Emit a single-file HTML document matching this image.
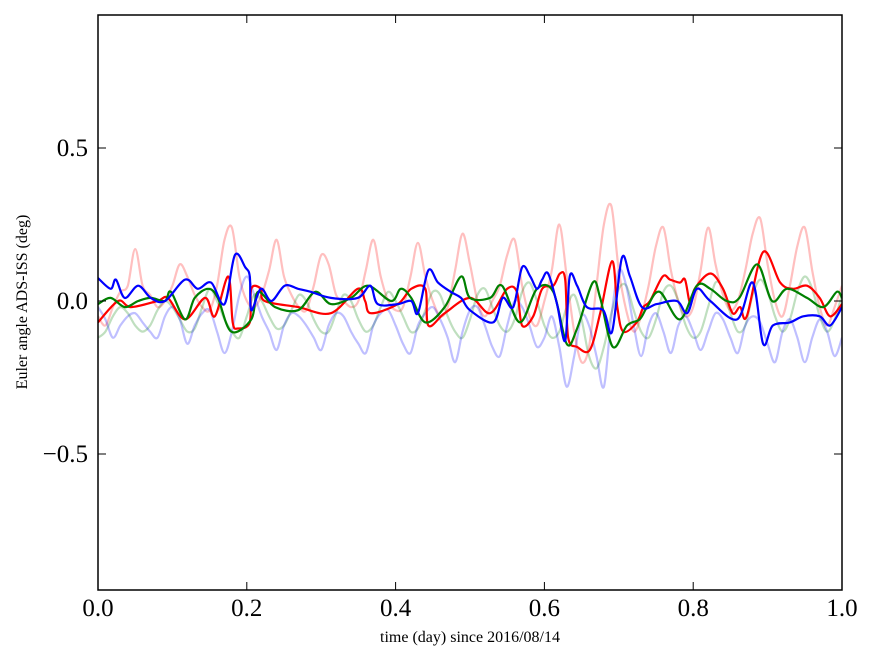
<!DOCTYPE html>
<html><head><meta charset="utf-8"><style>
body{margin:0;background:#fff;}
svg{display:block;font-family:"Liberation Serif",serif;}
</style></head><body>
<svg id="chart" width="875" height="662"></svg>
<script>
// x ticks
const xTicks=[0,0.2,0.4,0.6,0.8,1.0];
const xTickLabels=["0.0","0.2","0.4","0.6","0.8","1.0"];
const yTicks=[0.5,0,-0.5];
const yTickLabels=["0.5","0.0","\u22120.5"];
// faint series sampled every 0.01 day
const faintRed=[-0.05,-0.08,-0.02,0.03,0.05,0.17,0.05,0.02,-0.02,0.00,0.05,0.12,0.08,0.02,-0.02,-0.03,0.05,0.20,0.24,0.08,0.00,-0.02,0.02,0.10,0.20,0.08,0.02,-0.02,-0.03,0.05,0.15,0.12,0.02,0.00,-0.02,0.00,0.10,0.20,0.08,0.00,-0.03,-0.02,0.08,0.19,0.08,0.00,-0.05,-0.02,0.10,0.22,0.12,0.00,-0.05,0.00,0.05,0.15,0.20,0.05,-0.05,-0.08,0.00,0.10,0.25,0.08,-0.10,-0.20,-0.15,0.05,0.25,0.31,0.10,-0.03,-0.10,-0.05,0.05,0.18,0.24,0.10,0.00,-0.05,-0.02,0.10,0.24,0.12,0.02,-0.03,0.00,0.10,0.22,0.27,0.12,0.00,-0.05,0.05,0.18,0.24,0.10,-0.02,-0.08,-0.02,0.05];
const faintBlue=[-0.02,-0.06,-0.12,-0.08,-0.05,-0.04,-0.07,-0.10,-0.12,-0.05,-0.02,-0.06,-0.14,-0.08,-0.04,-0.03,-0.10,-0.17,-0.10,0.02,0.08,0.02,-0.05,-0.10,-0.16,-0.08,-0.04,-0.05,-0.08,-0.12,-0.16,-0.08,-0.04,-0.05,-0.10,-0.14,-0.17,-0.08,-0.04,-0.03,-0.08,-0.14,-0.17,-0.08,-0.04,-0.02,-0.06,-0.12,-0.20,-0.10,-0.03,-0.02,-0.08,-0.15,-0.18,-0.08,0.00,-0.02,-0.08,-0.15,-0.12,-0.05,-0.15,-0.28,-0.18,-0.05,-0.08,-0.18,-0.28,-0.05,0.10,0.05,-0.08,-0.18,-0.08,-0.04,-0.10,-0.17,-0.08,-0.05,-0.10,-0.16,-0.10,-0.04,-0.06,-0.12,-0.17,-0.08,-0.05,-0.07,-0.14,-0.20,-0.10,-0.06,-0.12,-0.20,-0.12,-0.06,-0.10,-0.18,-0.12];
const faintGreen=[-0.12,-0.10,-0.05,-0.02,-0.04,-0.08,-0.10,-0.08,-0.03,0.00,-0.02,-0.06,-0.10,-0.09,-0.02,0.04,0.00,-0.06,-0.10,-0.12,-0.05,0.02,0.00,-0.05,-0.09,-0.08,-0.03,0.02,0.00,-0.06,-0.10,-0.10,-0.04,0.02,0.00,-0.06,-0.10,-0.08,-0.02,0.03,0.00,-0.05,-0.10,-0.09,-0.03,0.03,0.02,-0.05,-0.10,-0.12,-0.06,0.02,0.04,-0.02,-0.08,-0.10,-0.06,0.03,0.06,0.00,-0.08,-0.12,-0.10,-0.02,0.02,-0.06,-0.18,-0.22,-0.15,-0.04,0.04,0.05,-0.03,-0.10,-0.12,-0.06,0.03,0.05,0.00,-0.08,-0.12,-0.10,-0.02,0.06,0.04,-0.04,-0.10,-0.08,0.02,0.07,0.03,-0.05,-0.10,-0.06,0.03,0.08,0.04,-0.05,-0.10,-0.06,0.02];
// solid series: times and values
const redT=[0,.027,.044,.08,.094,.117,.144,.157,.175,.181,.188,.204,.206,.219,.224,.269,.313,.349,.359,.367,.403,.421,.44,.444,.466,.5,.527,.55,.563,.57,.585,.597,.612,.621,.628,.632,.644,.661,.675,.691,.698,.706,.724,.733,.742,.759,.769,.782,.789,.796,.802,.823,.84,.853,.863,.872,.894,.917,.934,.953,.97,.984,1];
const redV=[-.07,0,-.02,0,.01,-.06,.01,-.05,.08,-.07,-.09,-.07,.04,.04,0,-.02,-.04,.04,0,-.04,-.01,.04,.04,-.08,-.04,.01,-.04,.04,.03,-.08,-.05,.04,.05,.09,.07,-.12,-.15,-.16,-.04,.13,-.02,-.1,-.07,-.02,0,.08,.07,.06,.07,-.01,.04,.09,.04,-.04,-.02,-.05,.16,.06,.04,.05,.01,-.05,-.01];
const blueT=[0,.017,.024,.036,.054,.071,.09,.117,.134,.152,.17,.184,.198,.204,.206,.219,.233,.251,.269,.286,.313,.349,.366,.376,.403,.421,.43,.444,.457,.474,.488,.5,.531,.544,.558,.57,.581,.59,.597,.605,.617,.628,.634,.644,.657,.679,.691,.704,.715,.731,.751,.778,.792,.805,.823,.859,.88,.894,.907,.93,.948,.97,.984,1];
const blueV=[.075,.04,.07,.01,.05,.01,0,.07,.04,.06,-.01,.15,.11,.08,-.03,.04,0,.05,.04,.03,.01,.01,.05,-.01,-.01,0,-.04,.1,.06,.03,.01,-.03,-.07,.01,-.02,.11,.08,.04,.07,.09,-.01,-.13,.08,.05,-.02,-.03,-.1,.14,.08,-.02,-.01,0,-.04,.04,0,-.06,.06,-.14,-.08,-.07,-.05,-.05,-.08,-.02];
const greenT=[0,.017,.036,.054,.071,.09,.098,.117,.13,.148,.161,.179,.206,.215,.238,.269,.292,.313,.34,.363,.394,.407,.421,.44,.466,.488,.5,.527,.543,.567,.59,.612,.63,.644,.665,.675,.692,.711,.728,.738,.755,.782,.805,.823,.845,.862,.886,.906,.926,.953,.975,.993,1];
const greenV=[-.01,.01,-.02,0,.01,0,.03,-.06,.01,.04,.01,-.1,-.06,.03,-.02,-.03,.03,-.01,.01,.05,0,.04,.01,-.07,-.02,.08,.01,.01,.05,-.07,.04,.03,-.14,-.09,.06,.01,-.15,-.08,-.06,-.02,.03,-.06,.05,.04,0,.01,.12,0,.04,.01,-.02,.03,.01];

const NS='http://www.w3.org/2000/svg';
const svg=document.getElementById('chart');
const L=98,R=842,T=15,B=590;
const xS=v=>L+v*(R-L);
const yS=v=>301-v*306;
function mk(tag,attrs){const e=document.createElementNS(NS,tag);for(const k in attrs)e.setAttribute(k,attrs[k]);svg.appendChild(e);return e;}

const clip=document.createElementNS(NS,'clipPath');clip.setAttribute('id','pc');
const cr=document.createElementNS(NS,'rect');cr.setAttribute('x',L);cr.setAttribute('y',T);cr.setAttribute('width',R-L);cr.setAttribute('height',B-T);
clip.appendChild(cr);svg.appendChild(clip);

function smoothPath(pts){
  let d='M'+pts[0][0].toFixed(1)+' '+pts[0][1].toFixed(1);
  for(let i=0;i<pts.length-1;i++){
    const p0=pts[Math.max(0,i-1)],p1=pts[i],p2=pts[i+1],p3=pts[Math.min(pts.length-1,i+2)];
    const c1x=p1[0]+(p2[0]-p0[0])/6,c1y=p1[1]+(p2[1]-p0[1])/6;
    const c2x=p2[0]-(p3[0]-p1[0])/6,c2y=p2[1]-(p3[1]-p1[1])/6;
    d+=' C'+c1x.toFixed(1)+' '+c1y.toFixed(1)+' '+c2x.toFixed(1)+' '+c2y.toFixed(1)+' '+p2[0].toFixed(1)+' '+p2[1].toFixed(1);
  }
  return d;
}
function line(ts,vs,color,op,name){
  const pts=vs.map((v,i)=>[xS(ts[i]),yS(v)]);
  const p=mk('path',{d:smoothPath(pts),fill:'none',stroke:color,'stroke-width':2.2,'stroke-opacity':op,'stroke-linejoin':'round','clip-path':'url(#pc)'});
  
  
}
const evenT=faintRed.map((_,i)=>i/100);
line(evenT,faintRed,'#ff0000',0.25,'faint-red-series');
line(evenT,faintGreen,'#008000',0.25,'faint-green-series');
line(evenT,faintBlue,'#0000ff',0.25,'faint-blue-series');
line(redT,redV,'#ff0000',1,'red-series');
line(greenT,greenV,'#008000',1,'green-series');
line(blueT,blueV,'#0000ff',1,'blue-series');

const frame=mk('rect',{x:L,y:T,width:R-L,height:B-T,fill:'none',stroke:'#000','stroke-width':1.5});



xTicks.forEach((v,i)=>{
  const x=xS(v);
  mk('line',{x1:x,x2:x,y1:B,y2:B-8,stroke:'#000','stroke-width':1});
  mk('line',{x1:x,x2:x,y1:T,y2:T+8,stroke:'#000','stroke-width':1});
  const t=mk('text',{x:x,y:616,'font-size':25,'text-anchor':'middle'});
  t.textContent=xTickLabels[i];
  
  
});
yTicks.forEach((v,i)=>{
  const y=yS(v);
  mk('line',{x1:L,x2:L+8,y1:y,y2:y,stroke:'#000','stroke-width':1});
  mk('line',{x1:R,x2:R-8,y1:y,y2:y,stroke:'#000','stroke-width':1});
  const t=mk('text',{x:88,y:y+8,'font-size':25,'text-anchor':'end'});
  t.textContent=yTickLabels[i];
  
  
});
const xt=mk('text',{x:470,y:642,'font-size':16,'text-anchor':'middle'});
xt.textContent='time (day) since 2016/08/14';


const yt=mk('text',{x:0,y:0,'font-size':16,'text-anchor':'middle',transform:'translate(27,302) rotate(-90)'});
yt.textContent='Euler angle ADS-ISS (deg)';


</script>
</body></html>
